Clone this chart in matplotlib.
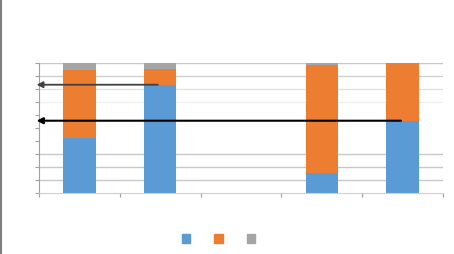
import numpy as np
import matplotlib.pyplot as plt
from matplotlib.lines import Line2D
from matplotlib.patches import Patch

# dados (percentual empilhado)
categorias = ['', '', '', '', '']
serie_azul = [42, 83.3, 0, 15.6, 55.6]
serie_laranja = [52.6, 12.3, 0, 82.9, 44.4]
serie_cinza = [5.4, 4.4, 0, 1.5, 0]
setas_y = [83.3, 55.6]      # alvo das setas no eixo y
setas_x = [0.97, 3.98]      # inicio das setas (categoria)

cor_azul = '#5b9bd5'
cor_laranja = '#ed7d31'
cor_cinza = '#a5a5a5'

fig = plt.figure(figsize=(4.54, 2.55), dpi=100)
ax = fig.add_axes([39/454, 61/255, 404/454, 130/255])

x = np.arange(len(categorias))
azul = np.array(serie_azul)
laranja = np.array(serie_laranja)
cinza = np.array(serie_cinza)

# grade
for v, c in [(10, '#c8c8c8'), (20, '#c8c8c8'), (30, '#c8c8c8'),
             (70, '#f0f0f0'), (80, '#e2e2e2'), (90, '#d0d0d0'), (100, '#c8c8c8')]:
    ax.axhline(v, color=c, lw=1, zorder=0)

ax.bar(x, azul, 0.4, color=cor_azul, zorder=2)
ax.bar(x, laranja, 0.4, bottom=azul, color=cor_laranja, zorder=2)
ax.bar(x, cinza, 0.4, bottom=azul + laranja, color=cor_cinza, zorder=2)

# setas apontando para o eixo y
ax.annotate('', xy=(-0.53, setas_y[0]), xytext=(setas_x[0], setas_y[0]),
            arrowprops=dict(arrowstyle='-|>', color='#404040', lw=1.3,
                            mutation_scale=9, shrinkA=0, shrinkB=0),
            annotation_clip=False, zorder=4)
ax.annotate('', xy=(-0.53, setas_y[1]), xytext=(setas_x[1], setas_y[1]),
            arrowprops=dict(arrowstyle='-|>', color='black', lw=1.5,
                            mutation_scale=9, shrinkA=0, shrinkB=0),
            annotation_clip=False, zorder=4)

ax.set_xlim(-0.5, 4.5)
ax.set_ylim(0, 100)
ax.set_xticks(np.arange(-0.5, 5, 1))
ax.set_xticklabels([])
ax.set_yticks(np.arange(0, 101, 10))
ax.set_yticklabels([])
ax.tick_params(axis='x', length=3, color='#a0a0a0', direction='out')
ax.tick_params(axis='y', length=3, color='#a0a0a0', direction='out')
for s in ['top', 'right']:
    ax.spines[s].set_visible(False)
ax.spines['left'].set_color('#a0a0a0')
ax.spines['bottom'].set_color('#d0d0d0')

# legenda sem texto
alca = [Patch(color=cor_azul), Patch(color=cor_laranja), Patch(color=cor_cinza)]
fig.legend(alca, ['', '', ''], loc='center', bbox_to_anchor=(220/454, 1 - 240/255),
           ncol=3, frameon=False, handlelength=0.6, handleheight=0.6,
           columnspacing=1.55, handletextpad=0.2)

# borda esquerda da figura
fig.add_artist(Line2D([0.002, 0.002], [0, 1], color='#808080', lw=1.5,
                      transform=fig.transFigure))

plt.savefig('out.png', dpi=100)
